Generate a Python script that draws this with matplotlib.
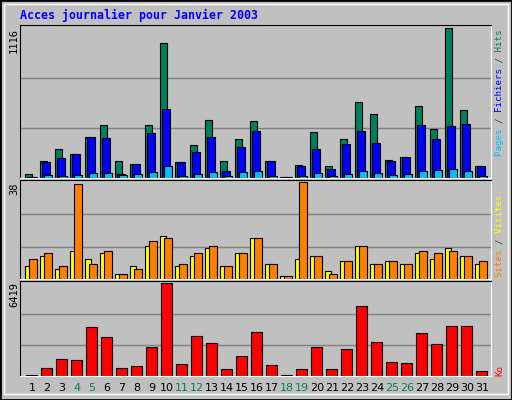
import matplotlib
matplotlib.use("Agg")
import matplotlib.pyplot as plt
import numpy as np

days = list(range(1, 32))
weekend = [4, 5, 11, 12, 18, 19, 25, 26]

hits = [30, 129, 213, 175, 304, 395, 129, 106, 395, 1002, 121, 243, 433, 129, 288, 425,
        129, 8, 99, 342, 91, 288, 569, 478, 137, 159, 539, 364, 1116, 509, 91]
files = [8, 121, 152, 175, 304, 296, 30, 106, 334, 516, 121, 197, 304, 53, 228, 349,
         129, 8, 91, 213, 68, 250, 349, 258, 129, 159, 395, 288, 387, 402, 91]
pages = [5, 23, 15, 23, 38, 38, 23, 30, 46, 91, 15, 30, 46, 15, 46, 53,
         15, 5, 15, 38, 15, 30, 53, 38, 23, 30, 53, 61, 68, 53, 15]
sites = [5, 9, 4, 11, 8, 10, 2, 5, 13, 17, 5, 9, 12, 5, 10, 16,
         6, 1, 8, 9, 3, 7, 13, 6, 7, 6, 10, 8, 12, 9, 6]
visits = [8, 10, 5, 37, 6, 11, 2, 4, 15, 16, 6, 10, 13, 5, 10, 16,
          6, 1, 38, 9, 2, 7, 13, 6, 7, 6, 11, 10, 11, 9, 7]
kbytes = [70, 564, 1199, 1129, 3386, 2680, 564, 705, 1975, 6419, 846, 2751, 2257, 494, 1411, 3033,
          776, 70, 494, 1975, 494, 1834, 4796, 2328, 988, 917, 2963, 2187, 3456, 3456, 353]

W, H = 512, 400
fig = plt.figure(figsize=(W / 100, H / 100), dpi=100, facecolor="#C0C0C0")
mono = "DejaVu Sans Mono"

def fx(px):
    return px / W

def fy(py):
    return 1 - py / H

# outer frame
fig.patches.append(plt.Rectangle((0, 0), 1, 1, transform=fig.transFigure, fill=False,
                                 edgecolor="black", linewidth=2))
fig.patches.append(plt.Rectangle((fx(4), fy(394)), fx(504), 390 / H, transform=fig.transFigure,
                                 fill=False, edgecolor="white", linewidth=1))

fig.text(fx(20), fy(15), "Acces journalier pour Janvier 2003", color="#0000FF",
         family=mono, fontsize=8.4, fontweight="bold", va="center")

x0 = np.arange(31)
left, width = fx(20), fx(471)

def make_ax(top, bottom, vmax):
    ax = fig.add_axes([left, fy(bottom), width, (bottom - top) / H])
    ax.set_facecolor("#C0C0C0")
    ax.set_xlim(0, 31.4)
    ax.set_ylim(0, vmax * 1.02)
    ax.set_xticks([])
    ax.set_yticks([])
    for g in (vmax / 3, 2 * vmax / 3):
        ax.axhline(g, color="#808080", linewidth=1, zorder=0)
    for s in ("left", "top"):
        ax.spines[s].set_color("black")
    for s in ("right", "bottom"):
        ax.spines[s].set_color("white")
    return ax

edge = dict(edgecolor="black", linewidth=0.8, align="edge")

ax1 = make_ax(25, 178, max(hits))
ax1.bar(x0 + 0.33, hits, 0.45, color="#00805C", **edge)
ax1.bar(x0 + 0.47, files, 0.5, color="#0000FF", **edge)
ax1.bar(x0 + 0.6, pages, 0.5, color="#00C0FF", **edge)

ax2 = make_ax(180, 279, max(visits))
ax2.bar(x0 + 0.33, sites, 0.4, color="#FFFF00", **edge)
ax2.bar(x0 + 0.6, visits, 0.5, color="#FF8000", **edge)

ax3 = make_ax(281, 376, max(kbytes))
ax3.bar(x0 + 0.4, kbytes, 0.73, color="#FF0000", **edge)

# max value labels on the left
for txt, ytop in (("1116", 28), ("38", 182), ("6419", 282)):
    fig.text(fx(14), fy(ytop), txt, rotation=90, family=mono, fontsize=7.5,
             ha="center", va="top")

# coloured legends on the right: one full-length layer per colour (monospace keeps alignment)
def legend(parts, ybottom):
    full = "".join(t for t, _ in parts)
    pos = 0
    for txt, col in parts:
        layer = " " * pos + txt + " " * (len(full) - pos - len(txt))
        fig.text(fx(500), fy(ybottom), layer, rotation=90, family=mono,
                 fontsize=6.6, color=col, ha="center", va="bottom")
        pos += len(txt)

legend([("Pages", "#00C0FF"), (" / ", "#404040"), ("Fichiers", "#0000FF"), (" / ", "#404040"),
        ("Hits", "#00805C")], 156)
legend([("Sites", "#FF8000"), (" / ", "#404040"), ("Visites", "#FFFF00")], 277)
legend([("Ko", "#FF0000")], 376)

# day labels
for d in days:
    col = "#00805C" if d in weekend else "black"
    ax3.text(d - 1 + 0.8, -0.07, str(d), transform=ax3.get_xaxis_transform(),
             ha="center", va="top", fontsize=8, color=col)

fig.savefig("out.png", dpi=100, facecolor=fig.get_facecolor())
